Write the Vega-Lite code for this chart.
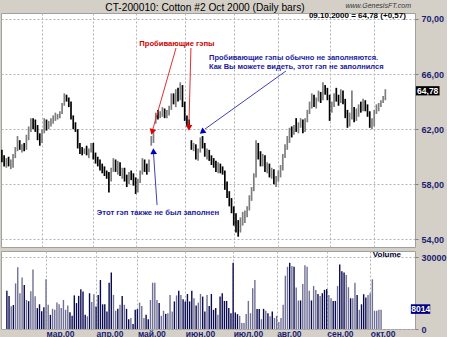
{
"$schema":"https://vega.github.io/schema/vega-lite/v6.json",
"background":"#d4d0c8",
"padding":{"left":0,"top":1,"right":0,"bottom":0},
"datasets":{"bars":[
{"t":0,"o":60.2,"h":60.5,"l":59.6,"c":59.8,"v":15900},
{"t":1,"o":59.8,"h":60.1,"l":59.3,"c":59.5,"v":13800},
{"t":2,"o":59.5,"h":59.9,"l":59.2,"c":59.7,"v":9500},
{"t":3,"o":59.7,"h":60.0,"l":59.3,"c":59.4,"v":10000},
{"t":4,"o":59.4,"h":59.8,"l":59.1,"c":59.6,"v":19000},
{"t":5,"o":59.6,"h":60.2,"l":59.2,"c":60.0,"v":25700},
{"t":6,"o":60.0,"h":60.7,"l":59.9,"c":60.5,"v":14900},
{"t":7,"o":60.5,"h":61.5,"l":60.4,"c":61.3,"v":21500},
{"t":8,"o":61.0,"h":61.2,"l":60.5,"c":60.6,"v":18300},
{"t":9,"o":60.6,"h":60.9,"l":60.3,"c":60.7,"v":12100},
{"t":10,"o":60.7,"h":61.0,"l":60.4,"c":60.5,"v":11600},
{"t":11,"o":60.5,"h":61.6,"l":60.5,"c":61.4,"v":15700},
{"t":12,"o":61.4,"h":62.2,"l":61.2,"c":62.0,"v":24800},
{"t":13,"o":62.0,"h":62.8,"l":61.8,"c":62.6,"v":13600},
{"t":14,"o":62.6,"h":62.8,"l":62.0,"c":62.2,"v":8700},
{"t":15,"o":62.2,"h":62.7,"l":61.8,"c":61.9,"v":10300},
{"t":16,"o":61.9,"h":62.3,"l":61.2,"c":61.4,"v":7400},
{"t":17,"o":61.4,"h":61.7,"l":60.8,"c":61.0,"v":9100},
{"t":18,"o":61.2,"h":62.0,"l":61.0,"c":61.8,"v":20700},
{"t":19,"o":61.8,"h":62.8,"l":61.7,"c":62.5,"v":10100},
{"t":20,"o":62.5,"h":62.7,"l":61.9,"c":62.1,"v":5900},
{"t":21,"o":62.1,"h":62.6,"l":62.0,"c":62.4,"v":8400},
{"t":22,"o":62.4,"h":62.8,"l":62.2,"c":62.6,"v":8000},
{"t":23,"o":62.6,"h":63.0,"l":62.4,"c":62.8,"v":11000},
{"t":24,"o":62.8,"h":63.2,"l":62.6,"c":62.9,"v":10300},
{"t":25,"o":62.9,"h":63.1,"l":62.7,"c":63.0,"v":8700},
{"t":26,"o":63.0,"h":63.3,"l":62.8,"c":63.2,"v":12100},
{"t":27,"o":63.2,"h":63.9,"l":63.1,"c":63.8,"v":8000},
{"t":28,"o":63.8,"h":64.6,"l":63.7,"c":64.4,"v":9800},
{"t":29,"o":64.4,"h":64.5,"l":64.0,"c":64.1,"v":7000},
{"t":30,"o":64.1,"h":64.3,"l":63.6,"c":63.8,"v":5500},
{"t":31,"o":63.8,"h":64.0,"l":62.7,"c":62.9,"v":14000},
{"t":32,"o":62.9,"h":63.0,"l":62.0,"c":62.2,"v":10800},
{"t":33,"o":62.2,"h":62.5,"l":61.8,"c":61.9,"v":13800},
{"t":34,"o":61.9,"h":62.0,"l":60.6,"c":60.8,"v":16600},
{"t":35,"o":60.8,"h":61.0,"l":60.2,"c":60.4,"v":15600},
{"t":36,"o":60.4,"h":60.7,"l":60.1,"c":60.3,"v":5900},
{"t":37,"o":60.3,"h":60.6,"l":60.2,"c":60.5,"v":5300},
{"t":38,"o":60.5,"h":60.8,"l":60.1,"c":60.2,"v":14900},
{"t":39,"o":60.2,"h":60.6,"l":59.9,"c":60.4,"v":11200},
{"t":40,"o":60.4,"h":61.0,"l":60.3,"c":60.8,"v":14500},
{"t":41,"o":60.8,"h":61.0,"l":59.8,"c":60.0,"v":9400},
{"t":42,"o":60.0,"h":60.3,"l":59.5,"c":59.7,"v":14200},
{"t":43,"o":59.7,"h":60.0,"l":59.3,"c":59.6,"v":20400},
{"t":44,"o":59.6,"h":59.8,"l":59.0,"c":59.2,"v":10300},
{"t":45,"o":59.2,"h":59.5,"l":58.8,"c":59.0,"v":10300},
{"t":46,"o":59.0,"h":59.3,"l":58.6,"c":58.8,"v":7300},
{"t":47,"o":58.8,"h":59.0,"l":58.4,"c":58.6,"v":19300},
{"t":48,"o":58.6,"h":58.9,"l":57.4,"c":58.3,"v":23500},
{"t":49,"o":58.3,"h":59.2,"l":58.2,"c":59.0,"v":14200},
{"t":50,"o":59.0,"h":59.9,"l":58.9,"c":59.6,"v":7600},
{"t":51,"o":59.6,"h":59.8,"l":58.9,"c":59.1,"v":8400},
{"t":52,"o":59.1,"h":59.7,"l":58.7,"c":59.4,"v":10100},
{"t":53,"o":59.4,"h":59.6,"l":58.6,"c":58.8,"v":13800},
{"t":54,"o":58.8,"h":59.2,"l":58.4,"c":59.0,"v":10100},
{"t":55,"o":59.0,"h":59.2,"l":58.2,"c":58.4,"v":8400},
{"t":56,"o":58.4,"h":58.7,"l":57.8,"c":58.1,"v":4100},
{"t":57,"o":58.1,"h":58.9,"l":58.0,"c":58.7,"v":4600},
{"t":58,"o":58.7,"h":59.0,"l":58.3,"c":58.5,"v":2100},
{"t":59,"o":58.5,"h":58.8,"l":57.9,"c":58.2,"v":8000},
{"t":60,"o":58.2,"h":58.5,"l":57.3,"c":57.6,"v":8300},
{"t":61,"o":57.6,"h":58.4,"l":57.4,"c":58.2,"v":11000},
{"t":62,"o":58.2,"h":59.0,"l":58.1,"c":58.8,"v":9600},
{"t":63,"o":58.8,"h":59.9,"l":58.7,"c":59.6,"v":4600},
{"t":64,"o":59.6,"h":59.8,"l":58.9,"c":59.1,"v":5900},
{"t":65,"o":59.1,"h":59.5,"l":58.7,"c":59.0,"v":4100},
{"t":66,"o":59.0,"h":59.8,"l":58.9,"c":59.6,"v":12100},
{"t":67,"o":60.9,"h":61.5,"l":60.8,"c":61.3,"v":19300},
{"t":68,"o":61.3,"h":61.8,"l":61.0,"c":61.6,"v":19300},
{"t":69,"o":62.5,"h":63.2,"l":62.4,"c":63.0,"v":12100},
{"t":70,"o":63.0,"h":63.4,"l":62.7,"c":62.9,"v":10800},
{"t":71,"o":62.9,"h":63.3,"l":62.8,"c":63.1,"v":5500},
{"t":72,"o":63.1,"h":63.6,"l":62.9,"c":63.4,"v":7600},
{"t":73,"o":63.4,"h":63.5,"l":62.8,"c":63.0,"v":6300},
{"t":74,"o":63.0,"h":63.4,"l":62.8,"c":63.2,"v":6600},
{"t":75,"o":63.2,"h":63.7,"l":63.0,"c":63.5,"v":14200},
{"t":76,"o":63.5,"h":64.6,"l":63.4,"c":64.4,"v":7300},
{"t":77,"o":64.4,"h":64.6,"l":63.8,"c":64.0,"v":11500},
{"t":78,"o":64.0,"h":64.9,"l":63.6,"c":64.7,"v":14000},
{"t":79,"o":64.7,"h":65.0,"l":64.0,"c":64.2,"v":15900},
{"t":80,"o":64.2,"h":65.4,"l":64.1,"c":65.1,"v":14200},
{"t":81,"o":64.9,"h":65.2,"l":63.6,"c":63.8,"v":12400},
{"t":82,"o":63.8,"h":64.0,"l":62.6,"c":62.9,"v":11500},
{"t":83,"o":62.9,"h":63.0,"l":62.2,"c":62.4,"v":14600},
{"t":84,"o":62.4,"h":62.7,"l":62.0,"c":62.3,"v":11500},
{"t":85,"o":61.0,"h":61.2,"l":60.5,"c":60.7,"v":15900},
{"t":86,"o":60.7,"h":61.0,"l":60.4,"c":60.8,"v":12800},
{"t":87,"o":60.8,"h":60.9,"l":59.8,"c":60.0,"v":9800},
{"t":88,"o":60.0,"h":60.6,"l":59.7,"c":60.4,"v":11000},
{"t":89,"o":60.4,"h":61.4,"l":60.3,"c":61.2,"v":14600},
{"t":90,"o":61.2,"h":61.5,"l":60.6,"c":60.8,"v":13500},
{"t":91,"o":60.8,"h":61.0,"l":60.0,"c":60.2,"v":7300},
{"t":92,"o":60.2,"h":60.6,"l":59.8,"c":60.4,"v":14200},
{"t":93,"o":60.4,"h":60.5,"l":59.7,"c":59.9,"v":9600},
{"t":94,"o":59.9,"h":60.1,"l":59.4,"c":59.6,"v":14600},
{"t":95,"o":59.6,"h":59.9,"l":59.2,"c":59.4,"v":8000},
{"t":96,"o":59.4,"h":59.7,"l":58.9,"c":59.2,"v":8700},
{"t":97,"o":59.2,"h":59.6,"l":58.8,"c":59.3,"v":5900},
{"t":98,"o":59.3,"h":59.5,"l":58.8,"c":59.0,"v":13500},
{"t":99,"o":59.0,"h":59.3,"l":58.7,"c":58.9,"v":14900},
{"t":100,"o":58.9,"h":59.0,"l":57.6,"c":57.8,"v":11700},
{"t":101,"o":57.8,"h":58.2,"l":57.0,"c":57.3,"v":11700},
{"t":102,"o":57.3,"h":57.5,"l":56.4,"c":56.7,"v":8700},
{"t":103,"o":56.7,"h":57.0,"l":55.9,"c":56.2,"v":6600},
{"t":104,"o":56.2,"h":56.4,"l":55.0,"c":55.3,"v":27600},
{"t":105,"o":55.3,"h":55.9,"l":54.5,"c":55.0,"v":6900},
{"t":106,"o":55.0,"h":55.4,"l":54.2,"c":54.6,"v":6200},
{"t":107,"o":54.6,"h":55.6,"l":54.5,"c":55.4,"v":5500},
{"t":108,"o":55.4,"h":56.0,"l":55.0,"c":55.5,"v":2500},
{"t":109,"o":55.5,"h":56.1,"l":55.2,"c":55.9,"v":2500},
{"t":110,"o":55.9,"h":56.4,"l":55.6,"c":56.2,"v":6200},
{"t":111,"o":56.2,"h":57.2,"l":56.1,"c":57.0,"v":11700},
{"t":112,"o":57.0,"h":57.8,"l":56.8,"c":57.6,"v":6600},
{"t":113,"o":57.6,"h":58.8,"l":57.5,"c":58.6,"v":17000},
{"t":114,"o":58.6,"h":61.2,"l":58.5,"c":60.8,"v":20400},
{"t":115,"o":60.8,"h":61.0,"l":59.8,"c":60.0,"v":8300},
{"t":116,"o":60.0,"h":60.4,"l":59.3,"c":59.5,"v":8300},
{"t":117,"o":59.5,"h":60.2,"l":59.3,"c":60.0,"v":4100},
{"t":118,"o":60.0,"h":60.1,"l":58.9,"c":59.1,"v":8400},
{"t":119,"o":59.1,"h":59.6,"l":58.8,"c":59.4,"v":7600},
{"t":120,"o":59.4,"h":59.5,"l":58.5,"c":58.7,"v":6600},
{"t":121,"o":58.7,"h":59.2,"l":58.4,"c":59.0,"v":5300},
{"t":122,"o":59.0,"h":59.1,"l":58.0,"c":58.2,"v":7300},
{"t":123,"o":58.2,"h":58.6,"l":57.8,"c":58.4,"v":4600},
{"t":124,"o":58.4,"h":59.0,"l":58.2,"c":58.8,"v":5500},
{"t":125,"o":58.8,"h":59.4,"l":58.5,"c":59.2,"v":2900},
{"t":126,"o":59.2,"h":60.2,"l":59.0,"c":60.0,"v":4600},
{"t":127,"o":60.0,"h":60.9,"l":59.9,"c":60.7,"v":10100},
{"t":128,"o":60.7,"h":61.5,"l":60.5,"c":61.3,"v":22200},
{"t":129,"o":61.3,"h":62.1,"l":61.0,"c":61.9,"v":25900},
{"t":130,"o":61.9,"h":62.2,"l":61.4,"c":61.7,"v":27600},
{"t":131,"o":61.7,"h":62.3,"l":61.6,"c":62.2,"v":26200},
{"t":132,"o":62.2,"h":62.8,"l":61.8,"c":62.0,"v":25900},
{"t":133,"o":62.0,"h":62.5,"l":61.7,"c":62.4,"v":17300},
{"t":134,"o":62.4,"h":62.8,"l":62.1,"c":62.6,"v":11900},
{"t":135,"o":62.6,"h":62.7,"l":61.7,"c":61.9,"v":11900},
{"t":136,"o":61.9,"h":62.8,"l":61.8,"c":62.6,"v":18800},
{"t":137,"o":62.6,"h":63.4,"l":62.5,"c":63.2,"v":26600},
{"t":138,"o":63.2,"h":64.0,"l":63.1,"c":63.8,"v":25900},
{"t":139,"o":63.8,"h":64.6,"l":63.5,"c":64.3,"v":15900},
{"t":140,"o":64.3,"h":64.5,"l":63.6,"c":63.7,"v":11900},
{"t":141,"o":63.7,"h":64.3,"l":63.5,"c":64.1,"v":17900},
{"t":142,"o":64.1,"h":64.8,"l":64.0,"c":64.6,"v":16300},
{"t":143,"o":64.6,"h":64.7,"l":63.9,"c":64.2,"v":14600},
{"t":144,"o":64.2,"h":65.4,"l":64.1,"c":65.1,"v":13800},
{"t":145,"o":65.1,"h":65.2,"l":64.5,"c":64.8,"v":14900},
{"t":146,"o":64.8,"h":65.0,"l":64.1,"c":64.3,"v":16300},
{"t":147,"o":64.3,"h":64.5,"l":62.6,"c":63.5,"v":16600},
{"t":148,"o":63.5,"h":64.0,"l":63.2,"c":63.8,"v":14200},
{"t":149,"o":63.8,"h":64.6,"l":63.6,"c":64.4,"v":12800},
{"t":150,"o":64.4,"h":65.0,"l":64.0,"c":64.2,"v":11700},
{"t":151,"o":64.2,"h":64.5,"l":63.7,"c":64.0,"v":11700},
{"t":152,"o":64.0,"h":64.9,"l":63.9,"c":64.7,"v":17900},
{"t":153,"o":64.7,"h":64.8,"l":63.8,"c":64.0,"v":26900},
{"t":154,"o":64.0,"h":64.2,"l":62.8,"c":63.0,"v":24100},
{"t":155,"o":63.0,"h":63.4,"l":62.1,"c":62.4,"v":23500},
{"t":156,"o":62.4,"h":63.2,"l":62.2,"c":62.9,"v":22500},
{"t":157,"o":62.9,"h":64.8,"l":62.7,"c":63.2,"v":17400},
{"t":158,"o":63.2,"h":63.6,"l":62.5,"c":62.8,"v":12800},
{"t":159,"o":62.8,"h":63.5,"l":62.6,"c":63.3,"v":12800},
{"t":160,"o":63.3,"h":63.8,"l":62.9,"c":63.6,"v":19300},
{"t":161,"o":63.6,"h":64.0,"l":63.2,"c":63.4,"v":14200},
{"t":162,"o":63.4,"h":64.2,"l":63.3,"c":64.0,"v":8000},
{"t":163,"o":63.9,"h":64.1,"l":63.3,"c":63.5,"v":10300},
{"t":164,"o":63.5,"h":63.8,"l":62.9,"c":63.1,"v":14500},
{"t":165,"o":63.1,"h":63.3,"l":62.1,"c":62.3,"v":13100},
{"t":166,"o":62.3,"h":62.8,"l":62.0,"c":62.6,"v":14200},
{"t":167,"o":62.6,"h":63.4,"l":62.2,"c":63.2,"v":14900},
{"t":168,"o":63.2,"h":63.8,"l":63.1,"c":63.6,"v":20700},
{"t":169,"o":63.6,"h":63.9,"l":63.3,"c":63.7,"v":7600},
{"t":170,"o":63.7,"h":64.1,"l":63.6,"c":64.0,"v":7600},
{"t":171,"o":64.0,"h":64.4,"l":63.9,"c":64.21,"v":8000},
{"t":172,"o":64.21,"h":64.9,"l":64.1,"c":64.78,"v":8014}
]},
"spacing":2,
"vconcat":[
{
"width":414,"height":234,
"layer":[
{"data":{"name":"bars"},
 "mark":{"type":"rule","strokeWidth":1.7},
 "encoding":{
  "x":{"field":"t","type":"quantitative","scale":{"domain":[-0.4,185.3],"nice":false,"zero":false},
       "axis":{"values":[18,41,60,82,104,124,147,167],"labels":false,"ticks":false,"domain":false,"title":null,"grid":true}},
  "y":{"field":"l","type":"quantitative","scale":{"domain":[53.45,70.43],"nice":false,"zero":false},
       "axis":{"orient":"right","values":[54,56,58,60,62,64,66,68,70],"labelExpr":"replace(format(datum.value,'.2f'),'.',',')","title":null,"domain":false,"tickSize":3,"labelPadding":3}},
  "y2":{"field":"h"},
  "color":{"condition":{"test":"datum.c >= datum.o","value":"#7e7e7e"},"value":"#000000"}
 }},
{"data":{"values":[{"t":78.1,"p":67.89,"t2":67.6,"p2":61.94},{"t":84.8,"p":67.89,"t2":83.9,"p2":62.3}]},
 "mark":{"type":"rule","color":"#e03030","strokeWidth":1},
 "encoding":{"x":{"field":"t","type":"quantitative"},"y":{"field":"p","type":"quantitative"},"x2":{"field":"t2"},"y2":{"field":"p2"}}},
{"data":{"values":[{"t":127.4,"p":66.22,"t2":91.1,"p2":62.01},{"t":69.6,"p":56.5,"t2":68.0,"p2":60.27}]},
 "mark":{"type":"rule","color":"#4040b0","strokeWidth":1},
 "encoding":{"x":{"field":"t","type":"quantitative"},"y":{"field":"p","type":"quantitative"},"x2":{"field":"t2"},"y2":{"field":"p2"}}},
{"data":{"values":[{"t":67.4,"p":61.8,"a":196,"k":"r"},{"t":83.9,"p":62.1,"a":181,"k":"r"},{"t":89.8,"p":61.8,"a":233,"k":"b"},{"t":68.0,"p":60.4,"a":356,"k":"b"}]},
 "mark":{"type":"point","shape":"triangle-up","filled":true,"size":45,"opacity":1},
 "encoding":{"x":{"field":"t","type":"quantitative"},"y":{"field":"p","type":"quantitative"},"angle":{"field":"a","type":"quantitative","scale":{"domain":[0,360],"range":[0,360]}},
  "color":{"field":"k","type":"nominal","scale":{"domain":["r","b"],"range":["#e00000","#0000c0"]},"legend":null}}},
{"data":{"values":[{"t":78.5,"p":68.18,"s":"Пробивающие гэпы"}]},
 "mark":{"type":"text","color":"#cc0000","font":"Liberation Sans","fontSize":7.6,"fontWeight":"bold","align":"center","baseline":"middle"},
 "encoding":{"x":{"field":"t","type":"quantitative"},"y":{"field":"p","type":"quantitative"},"text":{"field":"s","type":"nominal"}}},
{"data":{"values":[{"t":92.9,"p":67.16,"s":"Пробивающие гэпы обычно не заполняются."},{"t":92.9,"p":66.51,"s":"Как Вы можете видеть, этот гэп не заполнился"}]},
 "mark":{"type":"text","color":"#1a1aa0","font":"Liberation Sans","fontSize":7.5,"fontWeight":"bold","align":"left","baseline":"middle"},
 "encoding":{"x":{"field":"t","type":"quantitative"},"y":{"field":"p","type":"quantitative"},"text":{"field":"s","type":"nominal"}}},
{"data":{"values":[{"t":70.0,"p":55.92,"s":"Этот гэп также не был заполнен"}]},
 "mark":{"type":"text","color":"#1a1aa0","font":"Liberation Sans","fontSize":7.7,"fontWeight":"bold","align":"center","baseline":"middle"},
 "encoding":{"x":{"field":"t","type":"quantitative"},"y":{"field":"p","type":"quantitative"},"text":{"field":"s","type":"nominal"}}},
{"data":{"values":[{"t":181.2,"p":70.21,"s":"09.10.2000 = 64,78 (+0,57)"}]},
 "mark":{"type":"text","color":"#000000","font":"Liberation Sans","fontSize":8,"fontWeight":"bold","align":"right","baseline":"middle"},
 "encoding":{"x":{"field":"t","type":"quantitative"},"y":{"field":"p","type":"quantitative"},"text":{"field":"s","type":"nominal"}}},
{"data":{"values":[{"t":91.1,"p":70.54,"s":"CT-200010:  Cotton #2 Oct 2000  (Daily bars)"}]},
 "mark":{"type":"text","color":"#000000","font":"Liberation Sans","fontSize":10.2,"align":"center","baseline":"alphabetic"},
 "encoding":{"x":{"field":"t","type":"quantitative"},"y":{"field":"p","type":"quantitative"},"text":{"field":"s","type":"nominal"}}},
{"data":{"values":[{"t":183.5,"p":70.94,"s":"www.GenesisFT.com"}]},
 "mark":{"type":"text","color":"#333333","font":"Liberation Sans","fontSize":7,"fontStyle":"italic","align":"right","baseline":"middle"},
 "encoding":{"x":{"field":"t","type":"quantitative"},"y":{"field":"p","type":"quantitative"},"text":{"field":"s","type":"nominal"}}},
{"data":{"values":[{"t":185.7,"t2":196.3,"p":64.45,"p2":65.12}]},
 "mark":{"type":"rect","color":"#000000"},
 "encoding":{"x":{"field":"t","type":"quantitative"},"x2":{"field":"t2"},"y":{"field":"p","type":"quantitative"},"y2":{"field":"p2"}}},
{"data":{"values":[{"t":191.0,"p":64.78,"s":"64,78"}]},
 "mark":{"type":"text","color":"#ffffff","font":"Liberation Sans","fontSize":8.5,"fontWeight":"bold","align":"center","baseline":"middle"},
 "encoding":{"x":{"field":"t","type":"quantitative"},"y":{"field":"p","type":"quantitative"},"text":{"field":"s","type":"nominal"}}}
]
},
{
"width":414,"height":78,
"layer":[
{"data":{"name":"bars"},
 "mark":{"type":"bar","size":1.4},
 "encoding":{
  "x":{"field":"t","type":"quantitative","scale":{"domain":[-0.4,185.3],"nice":false,"zero":false},
       "axis":{"values":[18,41,60,82,104,124,147,167],"labelExpr":"['мар.00','апр.00','май.00','июн.00','июл.00','авг.00','сен.00','окт.00'][indexof([18,41,60,82,104,124,147,167], datum.value)]","labelAlign":"left","labelFlush":false,"labelBaseline":"middle","labelPadding":4,"labelFontSize":8.5,"ticks":false,"domain":false,"title":null,"grid":true}},
  "y":{"field":"v","type":"quantitative","scale":{"domain":[0,32500],"nice":false,"zero":true},
       "axis":{"orient":"right","values":[0,10000,20000,30000],"format":"d","title":null,"domain":false,"tickSize":3,"labelPadding":3}},
  "color":{"condition":{"test":"datum.c >= datum.o","value":"#707096"},"value":"#0a0a50"}
 }},
{"data":{"values":[{"t":181.2,"v":30700,"s":"Volume"}]},
 "mark":{"type":"text","color":"#000033","font":"Liberation Sans","fontSize":8,"fontWeight":"bold","align":"right","baseline":"middle"},
 "encoding":{"x":{"field":"t","type":"quantitative"},"y":{"field":"v","type":"quantitative"},"text":{"field":"s","type":"nominal"}}},
{"data":{"values":[{"t":185.7,"t2":194.6,"v":6300,"v2":10300}]},
 "mark":{"type":"rect","color":"#000080"},
 "encoding":{"x":{"field":"t","type":"quantitative"},"x2":{"field":"t2"},"y":{"field":"v","type":"quantitative"},"y2":{"field":"v2"}}},
{"data":{"values":[{"t":190.2,"v":8300,"s":"8014"}]},
 "mark":{"type":"text","color":"#ffffff","font":"Liberation Sans","fontSize":8.5,"fontWeight":"bold","align":"center","baseline":"middle"},
 "encoding":{"x":{"field":"t","type":"quantitative"},"y":{"field":"v","type":"quantitative"},"text":{"field":"s","type":"nominal"}}}
]
}
],
"config":{
 "view":{"fill":"#ffffff","stroke":"#a0a0a0"},
 "axis":{"gridColor":"#b4b4b4","gridDash":[2,2],"gridWidth":1,"labelFont":"Liberation Sans","labelFontWeight":"bold","labelFontSize":9,"labelColor":"#1c1c70","tickColor":"#808080"}
}
}
